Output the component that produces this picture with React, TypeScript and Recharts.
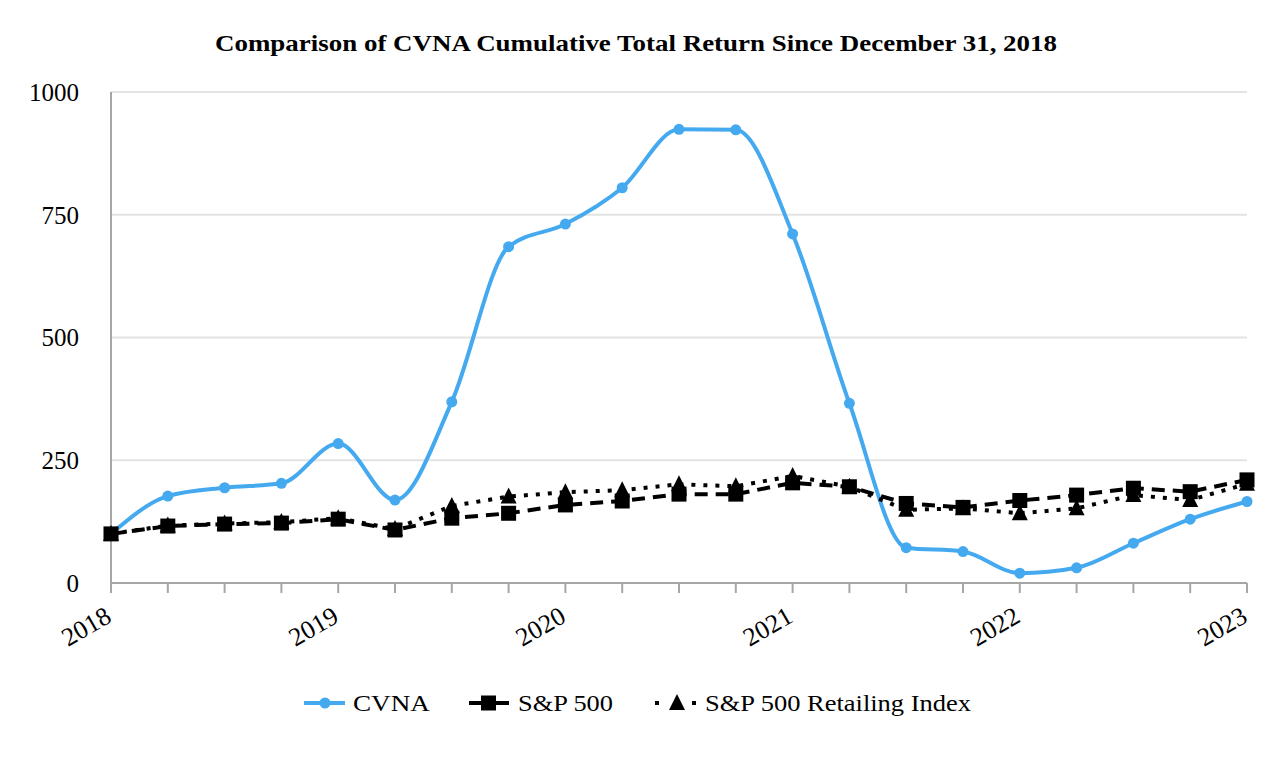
import { CartesianGrid, Line, LineChart, XAxis, YAxis } from 'recharts';

// quarterly points, Dec 31 2018 .. Dec 31 2023
const QUARTERS = [0, 1, 2, 3, 4, 5, 6, 7, 8, 9, 10, 11, 12, 13, 14, 15, 16, 17, 18, 19, 20];
const YEAR_LABELS = ['2018', '2019', '2020', '2021', '2022', '2023'];
const CVNA = [100, 177, 194, 203, 284, 169, 369, 685, 731, 805, 924, 923, 711, 366, 72, 64, 20, 31, 81, 130, 166];
const SP500 = [100, 116, 120, 122, 130, 108, 132, 142, 159, 167, 181, 181, 204, 196, 162, 154, 168, 179, 193, 186, 210];
const RETAIL = [100, 117, 121, 124, 132, 110, 157, 176, 185, 189, 201, 197, 218, 196, 149, 152, 142, 152, 179, 169, 202];
const Y_TICKS = [0, 250, 500, 750, 1000];

const FONT = '"Liberation Serif", "Times New Roman", serif';
const BLUE = '#45A9F0';
const AXIS = '#a6a6a6';

const data = QUARTERS.map((q, i) => ({
  q,
  cvna: CVNA[i],
  sp: SP500[i],
  retail: RETAIL[i],
}));

function SquareDot({ cx, cy, index }: any) {
  return <rect key={`sq-${index}`} x={cx - 7.5} y={cy - 7.5} width={15} height={15} fill="#000" />;
}

function TriangleDot({ cx, cy, index }: any) {
  return (
    <path
      key={`tr-${index}`}
      d={`M${cx},${cy - 9} L${cx + 8},${cy + 7} L${cx - 8},${cy + 7} Z`}
      fill="#000"
    />
  );
}

function YearTick({ x, y, payload }: any) {
  const v = payload.value as number;
  if (v % 4 !== 0) return <g />;
  const ax = x + 2;
  const ay = y + 28;
  return (
    <text
      x={ax}
      y={ay}
      textAnchor="end"
      transform={`rotate(-30, ${ax}, ${ay})`}
      fontSize={26}
      fontFamily={FONT}
      fill="#000"
    >
      {YEAR_LABELS[v / 4]}
    </text>
  );
}

function Legend() {
  return (
    <svg width={1276} height={60} style={{ position: 'absolute', left: 0, top: 680 }}>
      <g fontFamily={FONT} fontSize={24} fill="#000">
        {/* CVNA */}
        <line x1={304} y1={23} x2={345} y2={23} stroke={BLUE} strokeWidth={4} />
        <circle cx={325} cy={23} r={5.5} fill={BLUE} />
        <text x={353} y={31} textLength={77} lengthAdjust="spacingAndGlyphs">CVNA</text>
        {/* S&P 500 */}
        <line x1={469} y1={23} x2={509} y2={23} stroke="#000" strokeWidth={4} />
        <rect x={481} y={15.5} width={15} height={15} fill="#000" />
        <text x={518} y={31} textLength={95} lengthAdjust="spacingAndGlyphs">S&amp;P 500</text>
        {/* Retailing */}
        <rect x={655} y={21} width={4} height={4} fill="#000" />
        <path d="M677,14 L685,30 L669,30 Z" fill="#000" />
        <rect x={692} y={21} width={4} height={4} fill="#000" />
        <text x={705} y={31} textLength={266} lengthAdjust="spacingAndGlyphs">S&amp;P 500 Retailing Index</text>
      </g>
    </svg>
  );
}

export default function App() {
  return (
    <div style={{ position: 'absolute', left: 0, top: 0, width: 1276, height: 760, background: '#fff', fontFamily: FONT }}>
      <svg width={1276} height={70} style={{ position: 'absolute', left: 0, top: 0 }}>
        <text
          x={215}
          y={51}
          fontFamily={FONT}
          fontWeight="bold"
          fontSize={23}
          textLength={842}
          lengthAdjust="spacingAndGlyphs"
          fill="#000"
        >
          Comparison of CVNA Cumulative Total Return Since December 31, 2018
        </text>
      </svg>
      <LineChart width={1276} height={760} data={data} margin={{ top: 92, right: 29, left: 0, bottom: 117 }}>
        <CartesianGrid vertical={false} stroke="#e3e3e3" strokeWidth={2} />
        <XAxis
          dataKey="q"
          type="number"
          domain={[0, 20]}
          ticks={QUARTERS}
          interval={0}
          height={60}
          stroke={AXIS}
          strokeWidth={2}
          tickSize={10}
          tickMargin={0}
          tick={<YearTick />}
        />
        <YAxis
          domain={[0, 1000]}
          ticks={Y_TICKS}
          width={111}
          stroke={AXIS}
          strokeWidth={2}
          tickLine={false}
          tickSize={0}
          tickMargin={32}
          tick={{ fill: '#000', fontSize: 25, fontFamily: FONT }}
        />
        <Line
          dataKey="cvna"
          type="monotone"
          stroke={BLUE}
          strokeWidth={4}
          dot={{ r: 5.5, fill: BLUE, stroke: BLUE, strokeWidth: 0 }}
          activeDot={false}
          isAnimationActive={false}
        />
        <Line
          dataKey="retail"
          type="linear"
          stroke="#000"
          strokeWidth={4}
          strokeDasharray="4 8"
          dot={TriangleDot}
          activeDot={false}
          isAnimationActive={false}
        />
        <Line
          dataKey="sp"
          type="linear"
          stroke="#000"
          strokeWidth={4}
          strokeDasharray="13 8"
          dot={SquareDot}
          activeDot={false}
          isAnimationActive={false}
        />
      </LineChart>
      <Legend />
    </div>
  );
}
